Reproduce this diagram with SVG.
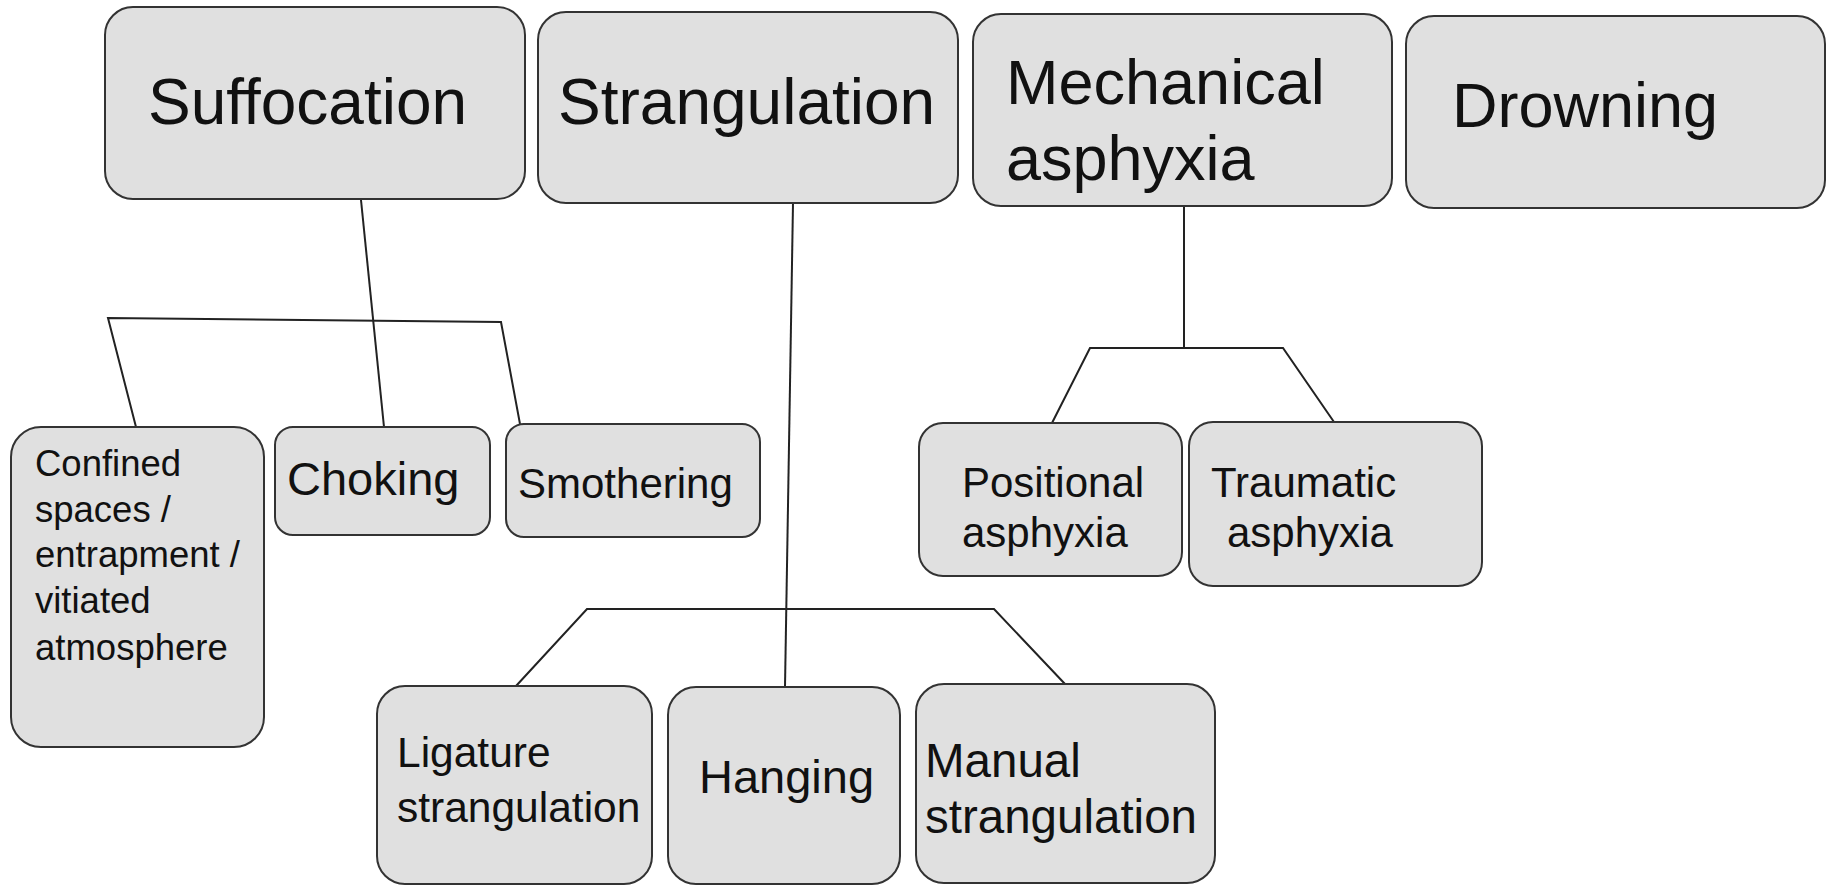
<svg xmlns="http://www.w3.org/2000/svg" width="1835" height="886" viewBox="0 0 1835 886">
<style>
.box{fill:#e0e0e0;stroke:#333;stroke-width:2}
.t{font-family:"Liberation Sans",Arial,sans-serif;fill:#111}
.c{stroke:#222;stroke-width:2;fill:none}
</style>
<rect width="1835" height="886" fill="#fff"/>
<g id="connectors">
<path class="c" d="M361,200 L384,427"/>
<path class="c" d="M136,427 L108,318 L501,322 L520,424"/>
<path class="c" d="M793,203 L785,687"/>
<path class="c" d="M516,686 L587,609 L994,609 L1065,684"/>
<path class="c" d="M1184,206 L1184,348"/>
<path class="c" d="M1052,423 L1090,348 L1283,348 L1334,422"/>
</g>
<g id="suffocation"><rect class="box" x="105" y="7" width="420" height="192" rx="28"/><text class="t" x="148" y="124" font-size="64">Suffocation</text></g>
<g id="strangulation"><rect class="box" x="538" y="12" width="420" height="191" rx="28"/><text class="t" x="558" y="124" font-size="64">Strangulation</text></g>
<g id="mechanical"><rect class="box" x="973" y="14" width="419" height="192" rx="28"/><text class="t" font-size="63"><tspan x="1006" y="104">Mechanical</tspan><tspan x="1006" y="180">asphyxia</tspan></text></g>
<g id="drowning"><rect class="box" x="1406" y="16" width="419" height="192" rx="28"/><text class="t" x="1452" y="127" font-size="63">Drowning</text></g>
<g id="confined"><rect class="box" x="11" y="427" width="253" height="320" rx="30"/><text class="t" font-size="36.5"><tspan x="35" y="476">Confined</tspan><tspan x="35" y="522">spaces /</tspan><tspan x="35" y="567">entrapment /</tspan><tspan x="35" y="613">vitiated</tspan><tspan x="35" y="660">atmosphere</tspan></text></g>
<g id="choking"><rect class="box" x="275" y="427" width="215" height="108" rx="18"/><text class="t" x="287" y="495" font-size="47">Choking</text></g>
<g id="smothering"><rect class="box" x="506" y="424" width="254" height="113" rx="18"/><text class="t" x="518" y="498" font-size="42">Smothering</text></g>
<g id="positional"><rect class="box" x="919" y="423" width="263" height="153" rx="24"/><text class="t" font-size="42"><tspan x="962" y="497">Positional</tspan><tspan x="962" y="547">asphyxia</tspan></text></g>
<g id="traumatic"><rect class="box" x="1189" y="422" width="293" height="164" rx="24"/><text class="t" font-size="42"><tspan x="1211" y="497">Traumatic</tspan><tspan x="1227" y="547">asphyxia</tspan></text></g>
<g id="ligature"><rect class="box" x="377" y="686" width="275" height="198" rx="28"/><text class="t" font-size="42.5"><tspan x="397" y="767">Ligature</tspan><tspan x="397" y="822">strangulation</tspan></text></g>
<g id="hanging"><rect class="box" x="668" y="687" width="232" height="197" rx="28"/><text class="t" x="699" y="793" font-size="47">Hanging</text></g>
<g id="manual"><rect class="box" x="916" y="684" width="299" height="199" rx="28"/><text class="t" font-size="47.5"><tspan x="925" y="777">Manual</tspan><tspan x="925" y="833">strangulation</tspan></text></g>
</svg>
